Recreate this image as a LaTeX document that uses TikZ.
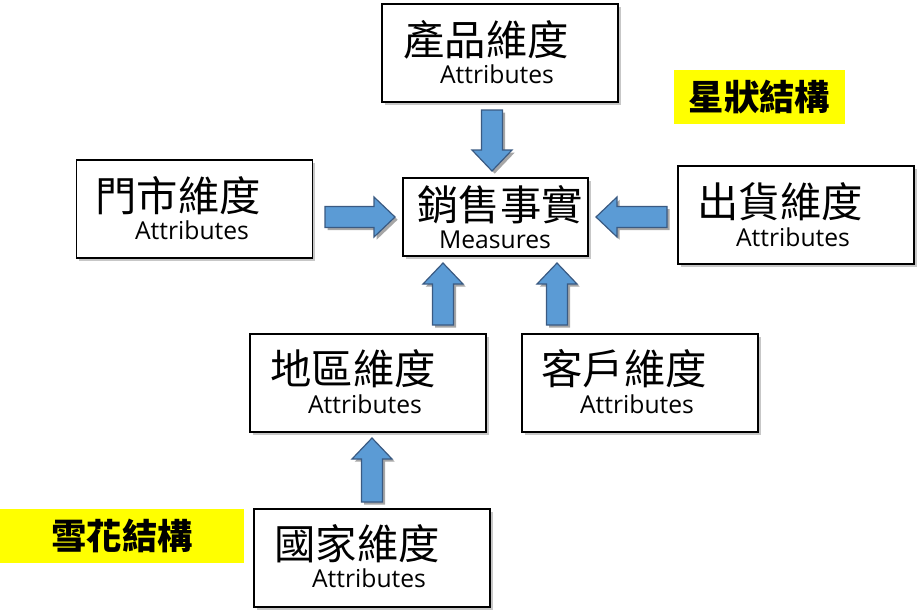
\documentclass[tikz,border=0pt]{standalone}
\usepackage{fontspec}
\setmainfont{Open Sans}
\newfontfamily\cjk{Noto Sans CJK TC}
\usetikzlibrary{shadows}
\definecolor{arrowblue}{HTML}{5B9BD5}
\definecolor{arrowline}{HTML}{3A5A82}
\definecolor{tagyellow}{HTML}{FFFF00}
\tikzset{
  dimbox/.style={draw,line width=0.9pt,fill=white,minimum width=177pt,minimum height=73.5pt,
    drop shadow={shadow xshift=2pt,shadow yshift=-2pt,fill=black!22,opacity=1}},
  factbox/.style={dimbox,minimum width=138.75pt,minimum height=58.5pt},
  tagbox/.style={fill=tagyellow,minimum height=40.5pt,inner sep=0pt,
    font=\cjk\bfseries\fontsize{26.5}{30}\selectfont},
  cjkname/.style={font=\cjk\fontsize{31}{36}\selectfont,inner sep=0pt},
  attrname/.style={font=\fontsize{18.5}{22}\selectfont,inner sep=0pt},
  blockarrow/.style={draw=arrowline,line width=0.9pt,fill=arrowblue,line join=miter,
    drop shadow={shadow xshift=2pt,shadow yshift=-2pt,fill=black!35,opacity=1}}
}
\begin{document}
\begin{tikzpicture}[x=0.75pt,y=-0.75pt]
\useasboundingbox(0,0)rectangle(918,611);
% dimension boxes
\node[dimbox](prod)at(500,53){};
\node[dimbox](store)at(194.5,209){};
\node[dimbox](ship)at(796,215){};
\node[dimbox](region)at(368,383){};
\node[dimbox](cust)at(640,383){};
\node[dimbox](country)at(372,558){};
\node[factbox](fact)at(495.5,217){};
% texts
\node[cjkname](prodname)at(486,40){產品維度};
\node[attrname](prodattr)at(497,74){Attributes};
\node[cjkname](storename)at(178,196){門市維度};
\node[attrname](storeattr)at(192,230){Attributes};
\node[cjkname](shipname)at(780,202){出貨維度};
\node[attrname](shipattr)at(793,237){Attributes};
\node[cjkname](regionname)at(353,369){地區維度};
\node[attrname](regionattr)at(365,404){Attributes};
\node[cjkname](custname)at(624,369){客戶維度};
\node[attrname](custattr)at(637,404){Attributes};
\node[cjkname](countryname)at(357,544){國家維度};
\node[attrname](countryattr)at(369,578){Attributes};
\node[cjkname](factname)at(500,205){銷售事實};
\node[attrname](factattr)at(495,240){Measures};
% yellow tags
\node[tagbox,minimum width=128.25pt](star)at(759.5,97){星狀結構};
\node[tagbox,minimum width=183pt](snow)at(122,536){雪花結構};
% block arrows: tip x/tip y/direction/length
\foreach \tx/\ty/\ux/\uy/\l in {492/171/0/1/61,395/217/1/0/70,596/217/-1/0/71,
  443/263/0/-1/62,557/263/0/-1/62,372/438/0/-1/64}
  \draw[blockarrow](\tx,\ty)
    --({\tx-21*\ux-20*\uy},{\ty-21*\uy+20*\ux})
    --({\tx-21*\ux-10.5*\uy},{\ty-21*\uy+10.5*\ux})
    --({\tx-\l*\ux-10.5*\uy},{\ty-\l*\uy+10.5*\ux})
    --({\tx-\l*\ux+10.5*\uy},{\ty-\l*\uy-10.5*\ux})
    --({\tx-21*\ux+10.5*\uy},{\ty-21*\uy-10.5*\ux})
    --({\tx-21*\ux+20*\uy},{\ty-21*\uy-20*\ux})--cycle;
\end{tikzpicture}
\end{document}
